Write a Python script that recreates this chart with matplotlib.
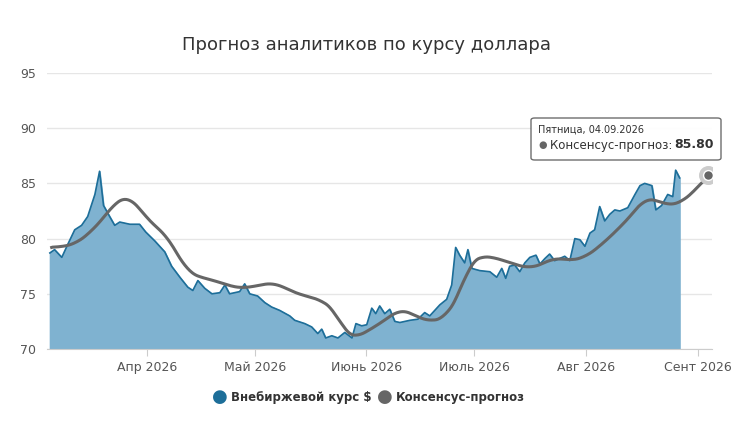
import matplotlib
matplotlib.use("Agg")
import matplotlib.pyplot as plt
import numpy as np

# days since 2026-03-01 (Mar 1 = day 0)
spot_days = [4.1,5.4,7.4,9.1,11,12.9,14.6,16.6,17.9,19,20.7,22.1,23.5,26.3,29,30.7,33.2,36,37.9,40.2,42.4,43.8,45.2,47.1,49.1,51.3,52.7,54,56.8,58.2,59.6,61.8,63.8,65.7,67.9,70.7,72.1,74.9,76.8,78.5,79.6,80.7,82.4,84.1,86,88,89.1,90.7,92.1,93.5,94.6,95.7,97.1,98.5,99.9,101.3,104.1,106.3,108.2,109.6,111,112.4,114.3,115.7,116.8,117.9,119.3,120.2,121.3,123.5,126.3,128.2,129.6,130.7,131.8,133.2,134.6,136,137.4,139.1,140.2,141.6,142.9,144.3,145.7,147.1,148.5,149.9,151.3,152.7,154.1,155.4,156.8,158.2,159.6,161,162.4,164.6,166.6,168,169.3,171.3,172.4,174,175.7,177.1,177.9,179]
spot_vals = [78.7,79,78.3,79.5,80.8,81.2,82,84,86.1,83,82,81.2,81.5,81.3,81.3,80.6,79.8,78.8,77.5,76.5,75.6,75.3,76.2,75.5,75.0,75.1,75.8,75.0,75.2,75.9,75.0,74.8,74.2,73.8,73.5,73.0,72.6,72.3,72.0,71.4,71.8,71.0,71.2,71.0,71.5,71.0,72.3,72.1,72.2,73.7,73.2,73.9,73.2,73.6,72.5,72.4,72.6,72.7,73.3,73.0,73.5,74.0,74.5,75.8,79.2,78.5,77.8,79.0,77.3,77.1,77.0,76.5,77.3,76.4,77.5,77.6,77.0,77.8,78.3,78.5,77.7,78.2,78.6,78.0,78.2,78.4,78.0,80.0,79.9,79.3,80.5,80.8,82.9,81.6,82.2,82.6,82.5,82.8,84.0,84.8,85.0,84.8,82.6,83.0,84.0,83.8,86.2,85.5]

cons_days = [4.6,8.2,11,15.2,19.3,22.9,25.7,28.5,31.8,36,38.8,42.4,45.7,49.9,54,58.2,62.4,66.6,70.7,74.9,79.1,83.3,86,88.8,91.6,94.3,97.9,101.3,104.1,106.8,109.6,113.8,117.9,120.7,123.5,127.7,131.8,137.4,141.6,144.3,148.5,152.7,156.8,162.4,166.6,169.3,172.1,176.3,179,183.2,187]
cons_vals = [79.2,79.3,79.5,80.5,82,83.5,83.8,83,81.5,80.5,79,77,76.5,76.2,75.7,75.5,75.8,76,75.3,74.8,74.5,73.5,71.5,71.0,71.5,72,72.8,73.6,73.3,72.8,72.5,72.8,75,77.8,78.4,78.3,77.8,77.3,77.8,78.3,78.0,78.3,79.3,81,82.5,83.7,83.5,83,83.2,84.3,85.8]

tick_days = [31, 61, 92, 122, 153, 184]
tick_labels = ["Апр 2026", "Май 2026", "Июнь 2026", "Июль 2026", "Авг 2026", "Сент 2026"]

W, H = 734, 426
fig = plt.figure(figsize=(W/100, H/100), dpi=100)
ax = fig.add_axes([47/W, 1-349/H, (712-47)/W, (349-73)/H])

# smooth consensus by dense linear interpolation + moving average
cd = np.array(cons_days); cv = np.array(cons_vals)
dd = np.linspace(cd[0], cd[-1], 800)
vv = np.interp(dd, cd, cv)
k = 25
pad = np.pad(vv, k//2, mode='edge')
vs = np.convolve(pad, np.ones(k)/k, mode='valid')
vs[0] = cv[0]; vs[-1] = cv[-1]

ax.fill_between(spot_days, spot_vals, 70, color='#7fb2d0', zorder=2)
ax.plot(spot_days, spot_vals, color='#1d6e99', lw=1.2, zorder=3)
ax.plot(dd, vs, color='#666666', lw=2.2, zorder=4)
ax.scatter([cd[-1]], [cv[-1]], s=160, color='#cccccc', zorder=5)
ax.scatter([cd[-1]], [cv[-1]], s=50, color='#666666', edgecolor='white', lw=1, zorder=6)

ax.set_xlim(3.3, 188)
ax.set_ylim(70, 95)
ax.set_yticks([70, 75, 80, 85, 90, 95])
ax.tick_params(axis='y', length=0, labelsize=9, labelcolor='#555555', pad=8)
ax.set_xticks(tick_days)
ax.set_xticklabels(tick_labels)
ax.tick_params(axis='x', length=5, color='#cccccc', labelsize=9, labelcolor='#555555')
ax.grid(axis='y', color='#e6e6e6', lw=1)
ax.set_axisbelow(True)
for s in ['top', 'right', 'left']:
    ax.spines[s].set_visible(False)
ax.spines['bottom'].set_color('#cccccc')

fig.text(0.5, 1-45/H, "Прогноз аналитиков по курсу доллара", ha='center', va='center', fontsize=13, color='#333333')

# tooltip
ax.annotate("Пятница, 04.09.2026", xy=(0, 0), xytext=(538/W, 1-130/H), textcoords='figure fraction',
            xycoords='figure fraction', fontsize=7, color='#333333', va='center')
tb = fig.patches
from matplotlib.patches import FancyBboxPatch
box = FancyBboxPatch((531/W, 1-160/H), 190/W, 42/H, boxstyle="round,pad=0,rounding_size=0.005",
                     transform=fig.transFigure, facecolor='white', edgecolor='#666666', lw=1, alpha=0.95, zorder=10)
fig.patches.append(box)
fig.text(538/W, 1-130/H, "Пятница, 04.09.2026", fontsize=7, color='#333333', va='center', zorder=11)
fig.text(538/W, 1-145/H, "●", fontsize=7, color='#666666', va='center', zorder=11)
fig.text(550/W, 1-145/H, "Консенсус-прогноз: ", fontsize=8.5, color='#333333', va='center', zorder=11)
fig.text(714/W, 1-145/H, "85.80", fontsize=9, color='#333333', va='center', ha='right', fontweight='bold', zorder=11)

# legend
fig.text(220/W, 1-397/H, "●", fontsize=13, color='#1d6e99', va='center', ha='center')
fig.text(231/W, 1-397/H, "Внебиржевой курс $", fontsize=8.5, color='#333333', va='center', fontweight='bold')
fig.text(385/W, 1-397/H, "●", fontsize=13, color='#666666', va='center', ha='center')
fig.text(396/W, 1-397/H, "Консенсус-прогноз", fontsize=8.5, color='#333333', va='center', fontweight='bold')

fig.savefig("out.png", dpi=100)
